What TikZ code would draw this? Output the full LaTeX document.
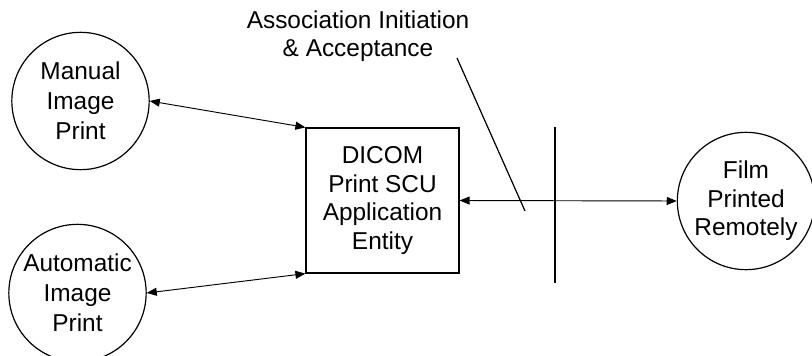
\documentclass[tikz,border=0pt]{standalone}
\usepackage{fontspec}
\setmainfont{Liberation Sans}
\usetikzlibrary{arrows.meta}
\begin{document}
\begin{tikzpicture}[x=0.75pt,y=-0.75pt,
  every node/.style={font=\fontsize{18.3}{21.3}\selectfont, align=center},
  proc/.style={circle, draw, line width=0.9pt, minimum size=103pt, inner sep=0pt, font=\fontsize{18.3}{22.5}\selectfont},
  entity/.style={rectangle, draw, line width=0.9pt, minimum width=114.75pt, minimum height=108.75pt, inner sep=0pt},
  link/.style={line width=0.7pt, {Triangle[length=7.5pt,width=6pt]}-{Triangle[length=7.5pt,width=6pt]}},
  plain/.style={line width=0.9pt}
]
\useasboundingbox (0,0) rectangle (812,356);
\node[proc] (manual) at (80.5,101) {Manual\\Image\\Print};
\node[proc] (auto) at (77.5,293) {Automatic\\Image\\Print};
\node[entity] (ae) at (382.5,200.5) {DICOM\\Print SCU\\Application\\Entity};
\node[proc, font=\fontsize{18.3}{21.3}\selectfont] (film) at (746,201) {Film\\Printed\\Remotely};
\node (label) at (358,36) {Association Initiation\\\& Acceptance};
\coordinate (bt) at (555,127);
\coordinate (bb) at (555,283);
\coordinate (ls) at (457,58);
\coordinate (le) at (525,211);
\draw[link] (manual.east) -- (ae.north west);
\draw[link] (auto.east) -- (ae.south west);
\draw[link] (ae.east) -- (film.west);
\draw[plain] (bt) -- (bb);
\draw[plain] (ls) -- (le);
\end{tikzpicture}
\end{document}
